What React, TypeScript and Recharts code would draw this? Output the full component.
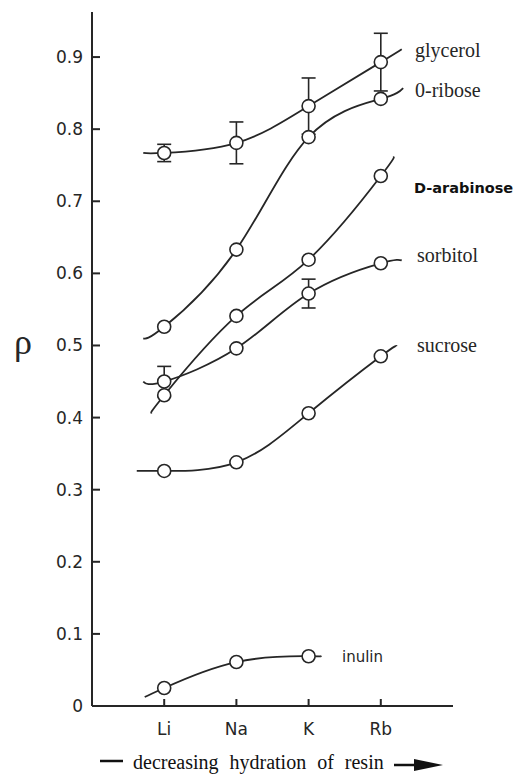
import { LineChart, Line, XAxis, YAxis, ErrorBar } from "recharts";

const INK = "#262626";
const SANS = "'DejaVu Sans', sans-serif";
const SERIF = "'Liberation Serif', 'Times New Roman', serif";

// cations on the x axis, placed at 1..4
const ions = ["Li", "Na", "K", "Rb"];
const ionPos = [1, 2, 3, 4];
const yTicks = [0, 0.1, 0.2, 0.3, 0.4, 0.5, 0.6, 0.7, 0.8, 0.9];

// rho values per cation, error half-widths, and the short curve ends [x, y]
const glycerol = [0.767, 0.781, 0.832, 0.893];
const glycerolErr = [0.012, 0.029, 0.039, 0.04];
const glycerolEnds = [[0.71, 0.767], [4.29, 0.911]];

const ribose = [0.526, 0.633, 0.789, 0.842];
const riboseEnds = [[0.71, 0.51], [4.31, 0.857]];

const arabinose = [0.431, 0.541, 0.619, 0.735];
const arabinoseEnds = [[0.83, 0.407], [4.17, 0.761]];

const sorbitol = [0.45, 0.496, 0.572, 0.614];
const sorbitolErr = [0.021, 0, 0.02, 0];
const sorbitolEnds = [[0.71, 0.45], [4.29, 0.618]];

const sucrose = [0.326, 0.338, 0.406, 0.485];
const sucroseEnds = [[0.62, 0.326], [4.22, 0.499]];

const inulin = [0.025, 0.061, 0.069];
const inulinEnds = [[0.73, 0.0125], [3.16, 0.069]];

interface Pt {
  x: number;
  y: number;
  err?: number;
  stub?: boolean;
}

function build(values: number[], ends: number[][], errs?: number[]): Pt[] {
  const pts: Pt[] = values.map((v, i) => ({
    x: ionPos[i],
    y: v,
    err: errs && errs[i] ? errs[i] : undefined,
  }));
  return [
    { x: ends[0][0], y: ends[0][1], stub: true },
    ...pts,
    { x: ends[1][0], y: ends[1][1], stub: true },
  ];
}

const series = [
  { name: "glycerol", data: build(glycerol, glycerolEnds, glycerolErr) },
  { name: "ribose", data: build(ribose, riboseEnds) },
  { name: "arabinose", data: build(arabinose, arabinoseEnds) },
  { name: "sorbitol", data: build(sorbitol, sorbitolEnds, sorbitolErr) },
  { name: "sucrose", data: build(sucrose, sucroseEnds) },
  { name: "inulin", data: build(inulin, inulinEnds) },
];

// eslint-disable-next-line @typescript-eslint/no-explicit-any
function Dot(props: any) {
  const { cx, cy, payload, index } = props;
  if (payload?.stub || cx == null) return <g key={index} />;
  return <circle key={index} cx={cx} cy={cy} r={6.5} fill="#fff" stroke={INK} strokeWidth={1.6} />;
}

// eslint-disable-next-line @typescript-eslint/no-explicit-any
function YTick({ x, y, payload }: any) {
  const v = payload.value as number;
  return (
    <g>
      {v > 0 && <line x1={x} x2={x + 8} y1={y} y2={y} stroke={INK} strokeWidth={2} />}
      <text x={x - 9} y={y + 6} textAnchor="end" fontFamily={SANS} fontSize={17} fill={INK}>
        {v === 0 ? "0" : v.toFixed(1)}
      </text>
    </g>
  );
}

// eslint-disable-next-line @typescript-eslint/no-explicit-any
function XTick({ x, y, payload }: any) {
  const i = ionPos.indexOf(payload.value);
  return (
    <g>
      <line x1={x} x2={x} y1={y} y2={y - 7} stroke={INK} strokeWidth={2} />
      <text x={x} y={y + 29} textAnchor="middle" fontFamily={SANS} fontSize={17} fill={INK}>
        {ions[i]}
      </text>
    </g>
  );
}

export default function App() {
  return (
    <div style={{ position: "absolute", left: 0, top: 0, width: 518, height: 774, background: "#fff" }}>
      <LineChart width={518} height={774} margin={{ top: 12, right: 65, bottom: 0, left: 0 }}>
        <XAxis
          type="number"
          dataKey="x"
          domain={[0, 5]}
          ticks={ionPos}
          height={68}
          tickSize={0}
          tickMargin={0}
          tick={<XTick />}
          tickLine={false}
          axisLine={{ stroke: INK, strokeWidth: 2 }}
          allowDuplicatedCategory={false}
        />
        <YAxis
          type="number"
          domain={[0, 0.9625]}
          ticks={yTicks}
          width={92}
          tickSize={0}
          tickMargin={0}
          tick={<YTick />}
          tickLine={false}
          axisLine={{ stroke: INK, strokeWidth: 2 }}
        />
        {series.map((s) => (
          <Line
            key={s.name}
            data={s.data}
            dataKey="y"
            type="natural"
            stroke={INK}
            strokeWidth={1.8}
            dot={Dot}
            activeDot={false}
            isAnimationActive={false}
          >
            <ErrorBar dataKey="err" width={7} stroke={INK} strokeWidth={1.6} direction="y" />
          </Line>
        ))}
      </LineChart>
      <svg
        width={518}
        height={774}
        style={{ position: "absolute", left: 0, top: 0, pointerEvents: "none" }}
      >
        <g fontFamily={SERIF} fontSize={20} fill={INK}>
          <text x={415} y={57}>glycerol</text>
          <text x={415} y={97}>0-ribose</text>
          <text x={417} y={262}>sorbitol</text>
          <text x={417} y={352}>sucrose</text>
        </g>
        <text x={414} y={193} fontFamily={SANS} fontWeight="bold" fontSize={14.5} fill="#111">
          D-arabinose
        </text>
        <text x={342} y={662} fontFamily={SANS} fontSize={15} fill={INK}>
          inulin
        </text>
        <text x={14} y={354} fontFamily={SERIF} fontSize={36} fill={INK}>
          ρ
        </text>
        <line x1={100} x2={123} y1={761} y2={761} stroke="#111" strokeWidth={2.5} />
        <text x={133} y={769} fontFamily={SERIF} fontSize={20} wordSpacing={6} fill="#111">
          decreasing hydration of resin
        </text>
        <line x1={394} x2={420} y1={765} y2={765} stroke="#111" strokeWidth={2.5} />
        <polygon points="414,759 443,765 414,771" fill="#111" />
      </svg>
    </div>
  );
}
